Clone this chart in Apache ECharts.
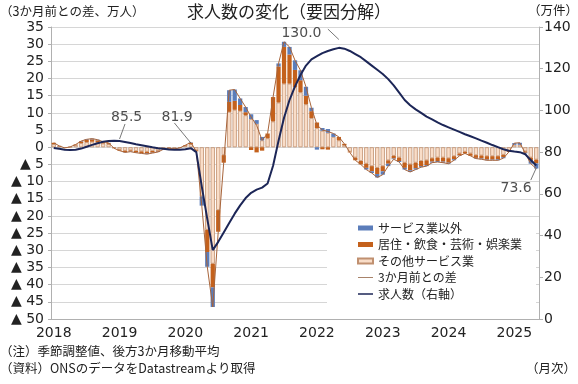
<!DOCTYPE html>
<html><head><meta charset="utf-8">
<script src="https://cdn.jsdelivr.net/npm/echarts@6/dist/echarts.min.js"></script>
<style>html,body{margin:0;padding:0;background:#fff}#c{width:578px;height:384px}</style>
</head><body><div id="c"></div>
<script>
// ---- data (monthly, Jan 2018 - May 2025) ----
const startYear = 2018;
const monthCount = 89;
const months = [];
for (let i = 0; i < monthCount; i++) {
  const y = startYear + Math.floor(i / 12), m = (i % 12) + 1;
  months.push(y + '-' + (m < 10 ? '0' : '') + m);
}
// その他サービス業
const otherServices = [
  0.9,0.3,-0.2,0.1,0.6,1.2,1.5,1.6,1.4,1.1,0.9,-0.2,
  -0.7,-1.0,-0.9,-1.1,-1.2,-1.3,-1.1,-1.0,-0.4,-0.2,-0.4,-0.2,
  0.4,0.9,-0.9,-14.3,-24.0,-33.9,-18.3,-2.3,10.3,10.9,10.6,9.3,
  8.2,6.8,2.0,2.6,7.5,13.0,18.5,18.5,17.5,16.0,12.5,8.5,
  5.6,4.8,4.2,3.0,2.0,0.6,-1.3,-3.0,-4.0,-4.8,-5.5,-6.0,
  -5.5,-3.8,-2.5,-3.0,-4.5,-5.0,-4.5,-4.0,-3.8,-3.2,-3.0,-3.0,
  -3.2,-2.6,-1.8,-1.3,-1.8,-2.3,-2.4,-2.6,-2.6,-2.6,-2.2,-1.0,
  0.7,0.7,-1.2,-3.0,-3.6
];
// 居住・飲食・芸術・娯楽業
const hospitality = [
  0.4,0.1,0,0,0.2,0.5,0.6,0.7,0.6,0.4,0.3,-0.1,
  -0.3,-0.4,-0.3,-0.4,-0.5,-0.5,-0.5,-0.3,-0.2,-0.1,-0.1,0,
  0.2,0.4,-0.3,0,-6.5,-6.9,-6.3,-2.2,2.9,2.6,1.7,0.9,
  -0.8,-1.5,-1.0,1.4,7.1,10.5,10.7,8.5,5.0,3.5,2.5,2.0,
  1.6,-0.6,-0.7,0,1.0,0.4,-0.2,-0.8,-1.0,-1.2,-1.5,-1.8,
  -1.5,-1.0,-0.8,-1.0,-1.5,-1.7,-1.6,-1.5,-1.4,-1.0,-1.0,-1.2,
  -1.3,-0.9,-0.6,-0.5,-0.7,-0.8,-0.9,-1.0,-1.0,-0.9,-0.7,-0.4,
  0,0,-0.4,-0.9,-1.1
];
// サービス業以外
const nonServices = [
  0,0,0,0,0,0.1,0.2,0.2,0.2,0.1,0.1,0,
  0,-0.1,-0.1,-0.1,-0.1,-0.2,-0.1,-0.1,0,0,0,0,
  0,0.1,0,-2.7,-4.3,-5.7,0,0,3.4,3.3,1.9,1.5,
  1.4,1.1,1.0,0,0,0.9,1.5,2.2,2.8,2.9,2.6,1.0,
  -0.7,0.8,1.1,1.0,0,0,0,0,0,-0.5,-0.5,-1.0,
  -1.0,-0.7,-0.2,-0.3,-0.5,-0.5,-0.4,-0.3,-0.3,-0.3,-0.3,-0.3,
  -0.3,-0.3,-0.1,0,0,-0.2,-0.2,-0.2,-0.2,-0.3,-0.3,0,
  0.5,0.6,-0.2,-0.9,-1.5
];
// 3か月前との差
const diff3m = [
  1.3,0.4,-0.2,0.1,0.8,1.8,2.3,2.5,2.2,1.6,1.3,-0.3,
  -1.0,-1.5,-1.3,-1.6,-1.8,-2.0,-1.7,-1.4,-0.6,-0.3,-0.5,-0.2,
  0.6,1.4,-1.2,-17.0,-34.8,-46.5,-24.6,-4.5,16.6,16.8,14.2,11.7,
  8.8,6.4,2.0,4.0,14.6,24.4,30.7,29.2,25.3,22.4,17.6,11.5,
  6.5,5.0,4.6,4.0,3.0,1.0,-1.5,-3.8,-5.0,-6.5,-7.5,-8.8,
  -8.0,-5.5,-3.5,-4.3,-6.5,-7.2,-6.5,-5.8,-5.5,-4.5,-4.3,-4.5,
  -4.8,-3.8,-2.5,-1.8,-2.5,-3.3,-3.5,-3.8,-3.8,-3.8,-3.2,-1.4,
  1.2,1.3,-1.8,-4.8,-6.2
];
// 求人数（右軸, 万件）
const vacancies = [
  82.0,81.6,81.2,81.0,81.1,81.7,82.6,83.5,84.3,85.0,85.4,85.5,
  85.3,84.9,84.4,83.8,83.3,82.8,82.3,81.9,81.6,81.3,81.2,81.2,
  81.4,81.9,80.0,63.5,48.0,33.0,37.0,41.5,46.0,50.5,54.5,58.0,
  60.5,62.0,63.0,65.0,73.5,85.5,96.5,105.0,111.5,117.0,121.5,124.5,
  126.0,127.5,128.5,129.3,130.0,129.6,128.5,127.0,125.5,123.5,121.5,119.5,
  117.5,115.0,112.0,108.5,105.0,102.5,100.5,98.8,97.0,95.7,94.3,93.0,
  91.9,90.8,89.7,88.6,87.6,86.6,85.5,84.5,83.4,82.4,81.4,80.7,
  80.3,80.0,79.0,76.2,73.6
];
const annotatedIdx = [11, 25, 52, 88];
const legendNames = ['サービス業以外','居住・飲食・芸術・娯楽業','その他サービス業','3か月前との差','求人数（右軸）'];

// ---- presentation ----
const JP = '"Noto Sans CJK JP", "Noto Sans", sans-serif';
const NUM = '"DejaVu Sans", "Noto Sans CJK JP", sans-serif';
const TXT = '#222';
const annotStyle = {
  11: {offset:[12.6,-10.6], pos:'top', s:[1,0.8], e:[2,8]},
  25: {offset:[-13.7,-18.2], pos:'top', s:[0,2.5], e:[-3,12.1]},
  52: {offset:[-37.4,-1.8], pos:'top', s:[0,4], e:[-2,9]},
  88: {offset:[-20.2,10.5], pos:'bottom', s:[0,-1.2], e:[-1,-7]}
};
const annotData = annotatedIdx.map(i => ({
  value:[i, vacancies[i]],
  label:{show:true, position: annotStyle[i].pos, offset: annotStyle[i].offset}
}));
const leaderData = annotatedIdx.map(i => {
  const a = annotStyle[i];
  return [{coord:[i + a.s[0], vacancies[i] + a.s[1]]}, {coord:[i + a.e[0], vacancies[i] + a.e[1]]}];
});
const legendIcons = {
  '3か月前との差':'path://M0,0H30V2H0Z',
  '求人数（右軸）':'path://M0,0H30V3H0Z'
};

const chart = echarts.init(document.getElementById('c'), null, {renderer:'canvas'});
chart.setOption({
  animation:false,
  backgroundColor:'#fff',
  title:[
    {text:'求人数の変化（要因分解）', left:'center', top:3, padding:0,
      textStyle:{fontSize:17, fontWeight:'normal', color:TXT, fontFamily:JP}},
    {text:'（3か月前との差、万人）', left:0, top:5, padding:0,
      textStyle:{fontSize:12.5, fontWeight:'normal', color:TXT, fontFamily:JP}},
    {text:'（万件）', right:0, top:4, padding:0,
      textStyle:{fontSize:12.5, fontWeight:'normal', color:TXT, fontFamily:JP}},
    {text:'（注）季節調整値、後方3か月移動平均', left:0, top:345, padding:0,
      textStyle:{fontSize:12.5, fontWeight:'normal', color:TXT, fontFamily:JP}},
    {text:'（資料）ONSのデータをDatastreamより取得', left:0, top:362, padding:0,
      textStyle:{fontSize:12.5, fontWeight:'normal', color:TXT, fontFamily:JP}},
    {text:'（月次）', right:2, top:362, padding:0,
      textStyle:{fontSize:12.5, fontWeight:'normal', color:TXT, fontFamily:JP}}
  ],
  legend:{
    orient:'vertical', left:327, top:218, backgroundColor:'#fff',
    padding:[4, 14, 12, 30], itemWidth:15, itemHeight:5, itemGap:4.5,
    textStyle:{fontSize:12, color:TXT, fontFamily:JP},
    data: legendNames.map(n => legendIcons[n] ? {name:n, icon:legendIcons[n]} : {name:n, icon:'rect'})
  },
  grid:{left:51, right:39, top:27, bottom:65, containLabel:false},
  xAxis:{
    type:'category', data:months, boundaryGap:true,
    axisLine:{show:true, onZero:false, lineStyle:{color:'#b0b0b0'}},
    axisTick:{show:false},
    axisLabel:{interval:(i)=> i % 12 === 0, formatter:(v)=> v.slice(0,4), margin:7,
      fontSize:14, color:TXT, fontFamily:NUM},
    splitLine:{show:false}
  },
  yAxis:[
    {type:'value', min:-50, max:35, interval:5, position:'left',
      axisLine:{show:true, lineStyle:{color:'#b0b0b0'}},
      axisTick:{show:true, length:3, lineStyle:{color:'#b0b0b0'}},
      splitLine:{show:true, lineStyle:{color:'#d6d6d6', width:1}},
      axisLabel:{margin:7, fontSize:14, color:TXT, fontFamily:NUM,
        formatter:(v)=> v < 0 ? '▲ ' + (-v) : String(v)}},
    {type:'value', min:0, max:140, interval:20, position:'right',
      axisLine:{show:true, lineStyle:{color:'#b0b0b0'}},
      axisTick:{show:true, length:4, lineStyle:{color:'#b0b0b0'}},
      splitLine:{show:false},
      axisLabel:{margin:5, fontSize:14, color:TXT, fontFamily:NUM}}
  ],
  series:[
    {name:'その他サービス業', type:'bar', stack:'f', data:otherServices, barCategoryGap:'22%',
      itemStyle:{color:'#f9ddc8', borderColor:'#c09070', borderWidth:0.8}},
    {name:'居住・飲食・芸術・娯楽業', type:'bar', stack:'f', data:hospitality,
      itemStyle:{color:'#c4611c'}},
    {name:'サービス業以外', type:'bar', stack:'f', data:nonServices,
      itemStyle:{color:'#5b7dba'}},
    {name:'3か月前との差', type:'line', data:diff3m, symbol:'none', z:4,
      lineStyle:{color:'#a8643a', width:1}, itemStyle:{color:'#a8836a'}},
    {name:'求人数（右軸）', type:'line', yAxisIndex:1, data:vacancies, symbol:'none', z:5,
      lineStyle:{color:'#1c2657', width:2}, itemStyle:{color:'#1c2657'}},
    {name:'annot', type:'scatter', yAxisIndex:1, data:annotData, symbolSize:1, z:6,
      itemStyle:{color:'rgba(0,0,0,0)'}, silent:true,
      label:{show:true, formatter:(p)=> p.value[1].toFixed(1), fontSize:14, color:TXT, fontFamily:NUM},
      markLine:{silent:true, symbol:'none', label:{show:false},
        lineStyle:{color:'#555', width:0.8, type:'solid'}, data:leaderData}}
  ]
});
</script></body></html>
